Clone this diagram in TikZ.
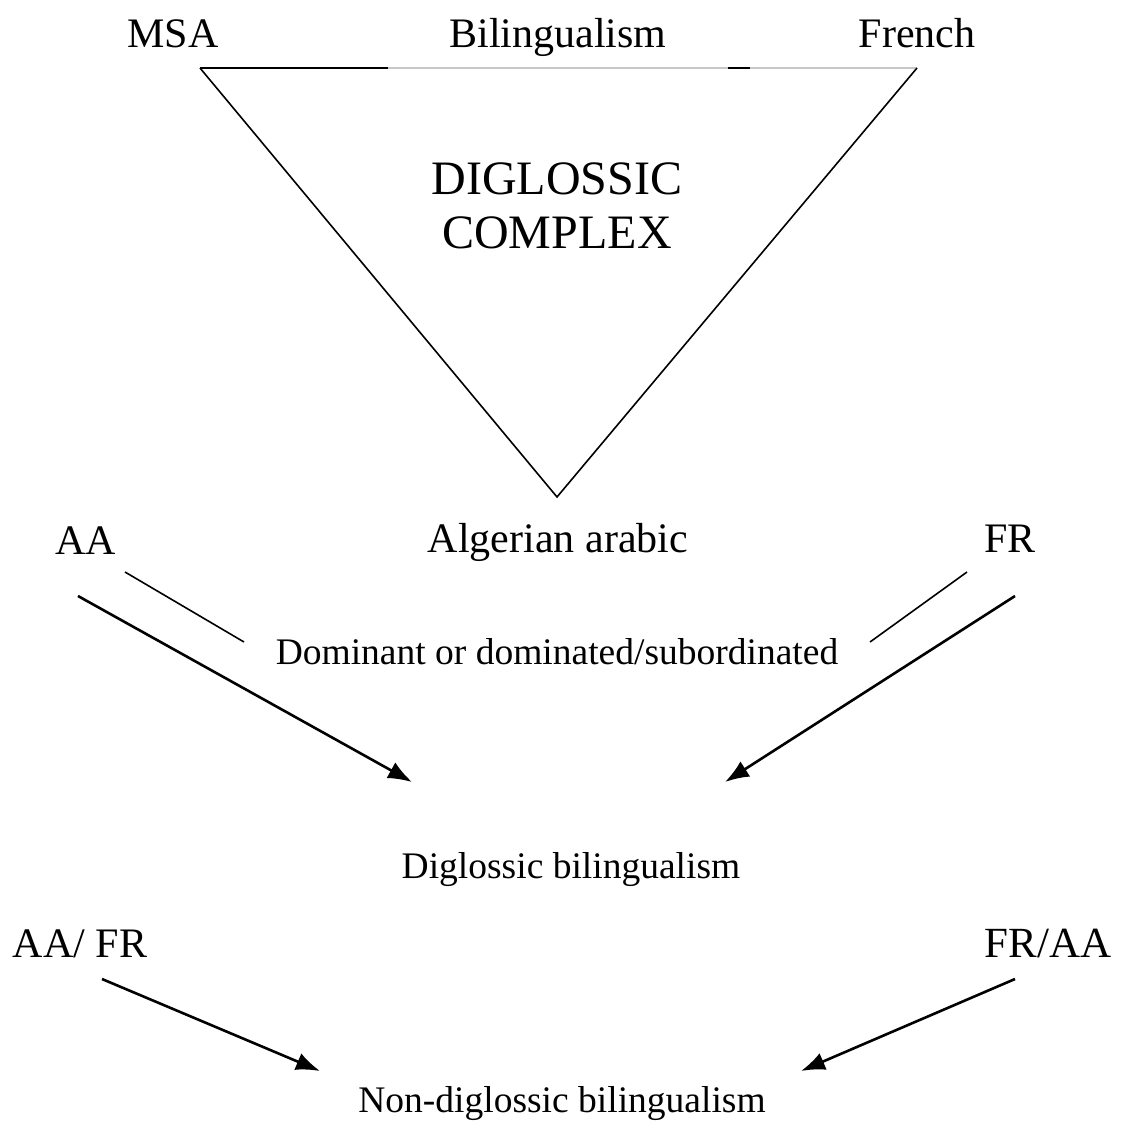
\documentclass[tikz,border=0pt]{standalone}
\usepackage{fontspec}
\setmainfont{Liberation Serif}
\usetikzlibrary{arrows.meta}
\begin{document}
\begin{tikzpicture}[x=1pt,y=-1pt,
  lbl/.style={inner sep=0pt,anchor=base,font=\fontsize{42}{50}\selectfont},
  sml/.style={inner sep=0pt,anchor=base,font=\fontsize{37.5}{45}\selectfont},
  big/.style={inner sep=0pt,anchor=base,font=\fontsize{48}{54}\selectfont},
  thin/.style={line width=1.6pt,black},
  arr/.style={line width=2.6pt,black,-{Latex[length=24pt,width=18pt]}}]
\useasboundingbox[fill=white] (0,0) rectangle (1126,1127);
% labels
\node[lbl] (msa) at (173,47) {MSA};
\node[lbl] (bil) at (558,47) {Bilingualism};
\node[lbl] (fre) at (917,47) {French};
\node[big] (dig) at (557,194) {DIGLOSSIC};
\node[big] (com) at (557,248) {COMPLEX};
\node[lbl] (alg) at (558,552) {Algerian arabic};
\node[lbl] (aa) at (86,554) {AA};
\node[lbl] (fr) at (1010,552) {FR};
\node[sml] (dom) at (557,664) {Dominant or dominated/subordinated};
\node[sml] (digb) at (571,878) {Diglossic bilingualism};
\node[lbl] (aafr) at (80,957) {AA/ FR};
\node[lbl,font=\fontsize{43}{50}\selectfont] (fraa) at (1048,957) {FR/AA};
\node[sml] (non) at (562,1112) {Non-diglossic bilingualism};
% triangle
\coordinate (tl) at (200,68);
\coordinate (tr) at (917,68);
\coordinate (ap) at (557,497);
\coordinate (g1) at (388,68);
\coordinate (b1) at (728,68);
\coordinate (b2) at (750,68);
\draw[line width=1.4pt,black!22] (g1) -- (tr);
\draw[thin] (tl) -- (g1);
\draw[thin] (b1) -- (b2);
\draw[thin] (tl) -- (ap) -- (tr);
% thin lines to "Dominant"
\coordinate (l1a) at (125,572);
\coordinate (l1b) at (244,642);
\coordinate (l2a) at (967,572);
\coordinate (l2b) at (870,642);
\draw[thin] (l1a) -- (l1b);
\draw[thin] (l2a) -- (l2b);
% arrows
\coordinate (a1s) at (78,596);
\coordinate (a1e) at (412,782);
\coordinate (a2s) at (1015,596);
\coordinate (a2e) at (725,782);
\draw[arr] (a1s) -- (a1e);
\draw[arr] (a2s) -- (a2e);
\coordinate (a3s) at (102,979);
\coordinate (a3e) at (320,1071);
\coordinate (a4s) at (1015,979);
\coordinate (a4e) at (801,1071);
\draw[arr] (a3s) -- (a3e);
\draw[arr] (a4s) -- (a4e);
\end{tikzpicture}
\end{document}
